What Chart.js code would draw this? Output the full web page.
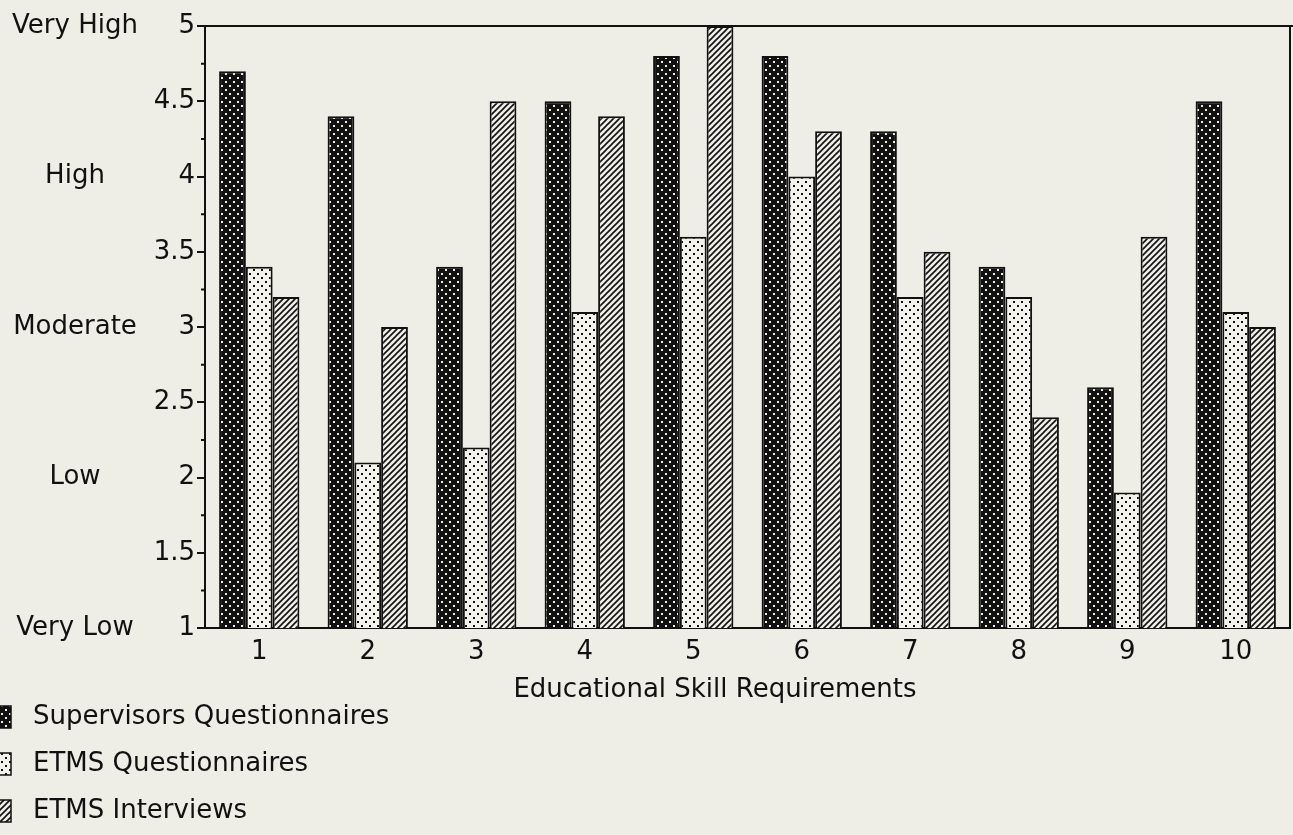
<!DOCTYPE html>
<html>
<head>
<meta charset="utf-8">
<script src="https://cdn.jsdelivr.net/npm/chart.js@4"></script>
<style>
  html, body { margin: 0; padding: 0; background: #eeede6; }
  #wrap { width: 1293px; height: 835px; position: relative; overflow: hidden; }
</style>
</head>
<body>
<div id="wrap"><canvas id="grafico" width="1293" height="835"></canvas></div>
<script>
const categories = ["1", "2", "3", "4", "5", "6", "7", "8", "9", "10"];
const supervisors = [4.7, 4.4, 3.4, 4.5, 4.8, 4.8, 4.3, 3.4, 2.6, 4.5];
const etmsQuestionnaires = [3.4, 2.1, 2.2, 3.1, 3.6, 4.0, 3.2, 3.2, 1.9, 3.1];
const etmsInterviews = [3.2, 3.0, 4.5, 4.4, 5.0, 4.3, 3.5, 2.4, 3.6, 3.0];
const seriesNames = ["Supervisors Questionnaires", "ETMS Questionnaires", "ETMS Interviews"];
const ratingValues = [5, 4, 3, 2, 1];
const ratingLabels = ["Very High", "High", "Moderate", "Low", "Very Low"];
const axisTitle = "Educational Skill Requirements";

const FONT = "DejaVu Sans";
const SIZE = 26;
const PAPER = "#eeede6";

// patrones tipo impresora de puntos
function patronPuntos(fondo, punto, r) {
  const c = document.createElement("canvas");
  c.width = 8; c.height = 8;
  const g = c.getContext("2d");
  g.fillStyle = fondo;
  g.fillRect(0, 0, 8, 8);
  g.fillStyle = punto;
  g.fillRect(1, 1, r, r);
  g.fillRect(5, 5, r, r);
  return g.createPattern(c, "repeat");
}

function patronRayas() {
  const c = document.createElement("canvas");
  c.width = 6; c.height = 6;
  const g = c.getContext("2d");
  g.fillStyle = PAPER;
  g.fillRect(0, 0, 6, 6);
  g.strokeStyle = "#111";
  g.lineWidth = 1.6;
  g.beginPath();
  g.moveTo(-1, 7); g.lineTo(7, -1);
  g.moveTo(-1, 1); g.lineTo(1, -1);
  g.moveTo(5, 7); g.lineTo(7, 5);
  g.stroke();
  return g.createPattern(c, "repeat");
}

const patrones = [
  patronPuntos("#111", "#eeede6", 2),
  patronPuntos("#f3f2ec", "#111", 2),
  patronRayas()
];

const extras = {
  id: "extras",
  afterDraw(chart) {
    const { ctx, chartArea, scales } = chart;
    const y = scales.y;
    ctx.save();
    ctx.strokeStyle = "#111";
    ctx.lineWidth = 2;
    // borde superior y derecho
    ctx.beginPath();
    ctx.moveTo(chartArea.left, chartArea.top);
    ctx.lineTo(chart.width, chartArea.top);
    ctx.moveTo(chartArea.right, chartArea.top);
    ctx.lineTo(chartArea.right, chartArea.bottom);
    ctx.stroke();
    // marcas menores
    const ticks = y.ticks.map(t => t.value);
    ctx.beginPath();
    for (let i = 0; i < ticks.length - 1; i++) {
      const py = y.getPixelForValue((ticks[i] + ticks[i + 1]) / 2);
      ctx.moveTo(chartArea.left - 4, py);
      ctx.lineTo(chartArea.left, py);
    }
    ctx.stroke();

    ctx.fillStyle = "#111";
    ctx.font = SIZE + "px '" + FONT + "'";
    ctx.textBaseline = "middle";
    ctx.textAlign = "center";
    ratingValues.forEach((v, i) => {
      ctx.fillText(ratingLabels[i], 75, y.getPixelForValue(v));
    });
    ctx.fillText(axisTitle, 715, 690);

    // leyenda
    ctx.textAlign = "left";
    seriesNames.forEach((name, i) => {
      const cy = 717 + i * 47;
      ctx.fillStyle = patrones[i];
      ctx.fillRect(-6, cy - 11, 17, 22);
      ctx.lineWidth = 1.5;
      ctx.strokeRect(-6, cy - 11, 17, 22);
      ctx.fillStyle = "#111";
      ctx.fillText(name, 33, cy);
    });
    ctx.restore();
  }
};

new Chart(document.getElementById("grafico"), {
  type: "bar",
  data: {
    labels: categories,
    datasets: [supervisors, etmsQuestionnaires, etmsInterviews].map((d, i) => ({
      label: seriesNames[i],
      data: d,
      backgroundColor: patrones[i],
      borderColor: "#111",
      borderWidth: 2,
      categoryPercentage: 0.74,
      barPercentage: 1.0
    }))
  },
  options: {
    responsive: false,
    animation: false,
    layout: { padding: { top: 26, right: 3, bottom: 147, left: 0 } },
    plugins: {
      legend: { display: false },
      tooltip: { enabled: false }
    },
    scales: {
      x: {
        grid: { display: true, drawOnChartArea: false, color: "rgba(0,0,0,0)", tickLength: 8 },
        border: { display: true, color: "#111", width: 2 },
        ticks: { color: "#111", font: { family: FONT, size: SIZE }, padding: 1, maxRotation: 0 },
        afterFit(s) { s.height = 60; }
      },
      y: {
        min: 1,
        max: 5,
        grid: { display: true, drawOnChartArea: false, color: "#111", tickLength: 8, lineWidth: 2 },
        border: { display: true, color: "#111", width: 2 },
        ticks: {
          stepSize: 0.5,
          color: "#111",
          font: { family: FONT, size: SIZE },
          padding: 2,
          callback: v => String(Number(v))
        },
        afterFit(s) { s.width = 205; }
      }
    }
  },
  plugins: [extras]
});
</script>
</body>
</html>
